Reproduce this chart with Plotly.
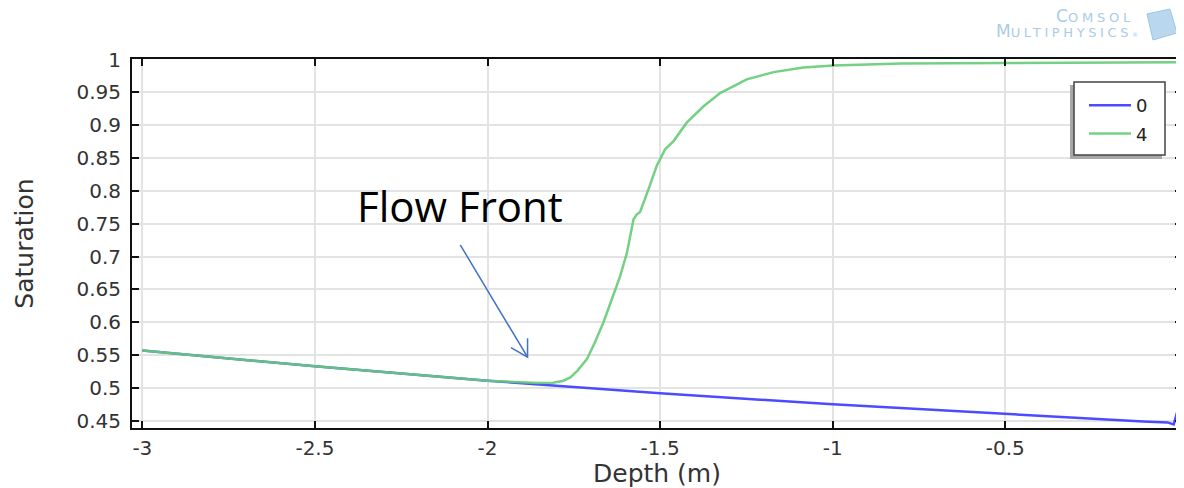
import plotly.graph_objects as go

# ---- data ----
depth_t0 = [-3.0, -2.5, -2.0, -1.5, -1.0, -0.5, -0.1, -0.03, -0.012, 0.0]
sat_t0 = [0.557, 0.533, 0.511, 0.492, 0.475, 0.460, 0.449, 0.4475, 0.4445, 0.467]

depth_t4 = [-3.0, -2.5, -2.0, -1.9, -1.85, -1.81, -1.78, -1.76, -1.74, -1.712, -1.69,
            -1.664, -1.64, -1.616, -1.596, -1.577, -1.568, -1.558, -1.534, -1.51,
            -1.486, -1.461, -1.423, -1.374, -1.326, -1.249, -1.171, -1.085, -0.998,
            -0.8, -0.5, 0.0]
sat_t4 = [0.557, 0.533, 0.511, 0.5085, 0.5075, 0.508, 0.511, 0.516, 0.526, 0.544, 0.568,
          0.600, 0.635, 0.670, 0.706, 0.757, 0.764, 0.768, 0.802, 0.838,
          0.863, 0.876, 0.904, 0.929, 0.949, 0.970, 0.981, 0.988, 0.991,
          0.994, 0.995, 0.996]

series_names = ["0", "4"]
x_ticks = [-3, -2.5, -2, -1.5, -1, -0.5, 0]
x_tick_labels = ["-3", "-2.5", "-2", "-1.5", "-1", "-0.5", "0"]
y_ticks = [0.45, 0.5, 0.55, 0.6, 0.65, 0.7, 0.75, 0.8, 0.85, 0.9, 0.95, 1.0]
y_tick_labels = ["0.45", "0.5", "0.55", "0.6", "0.65", "0.7", "0.75", "0.8", "0.85", "0.9", "0.95", "1"]

BLUE = "#4b4bff"
GREEN = "#66cc77"
TXT = "#333333"
FONT = "DejaVu Sans"

fig = go.Figure()
fig.add_trace(go.Scatter(x=depth_t0, y=sat_t0, mode="lines", name=series_names[0],
                         legendgroup="a", line=dict(color=BLUE, width=2.5)))
fig.add_trace(go.Scatter(x=depth_t4, y=sat_t4, mode="lines", name=series_names[1],
                         legendgroup="b", opacity=0.9, line=dict(color=GREEN, width=2.5)))

axis_common = dict(
    showgrid=True, gridcolor="#e3e3e3", gridwidth=1.5,
    showline=True, linecolor="#111111", linewidth=2, mirror="ticks",
    ticks="inside", ticklen=7, tickwidth=1.5, tickcolor="#111111",
    tickfont=dict(family=FONT, size=20, color=TXT), zeroline=False,
    automargin=False,
)

fig.update_xaxes(range=[-3.03, 0.012], tickvals=x_ticks, ticktext=x_tick_labels,
                 title=dict(text="Depth (m)", font=dict(family=FONT, size=25, color=TXT), standoff=2),
                 ticklabelstandoff=1, **axis_common)
fig.update_yaxes(range=[0.439, 1.001], tickvals=y_ticks, ticktext=y_tick_labels,
                 title=dict(text="Saturation", font=dict(family=FONT, size=25, color=TXT), standoff=36),
                 ticklabelstandoff=5, **axis_common)

# helpers: page pixel -> paper fraction (plot area spans x 132..1182, y 59..428 on the page)
def px_x(p):
    return (p - 132) / 1050.0

def px_y(p):
    return (428 - p) / 369.0

shapes = [
    dict(type="rect", xref="paper", yref="paper", x0=px_x(1070), x1=px_x(1162),
         y0=px_y(159), y1=px_y(85), fillcolor="#a8a8a8", line=dict(width=0), layer="above"),
    dict(type="rect", xref="paper", yref="paper", x0=px_x(1074), x1=px_x(1165),
         y0=px_y(155), y1=px_y(82), fillcolor="white", line=dict(color="#444444", width=1.5), layer="above"),
    # logo cube
    dict(type="path", xref="paper", yref="paper",
         path=f"M {px_x(1147)},{px_y(14)} L {px_x(1170)},{px_y(9)} L {px_x(1177)},{px_y(33)} "
              f"L {px_x(1153)},{px_y(40)} Z",
         fillcolor="#b9d8ef", line=dict(color="#9cc6e6", width=1), layer="above"),
    # arrow (open head)
    dict(type="path", xref="x", yref="y", xsizemode="pixel", ysizemode="pixel",
         xanchor=-1.884, yanchor=0.5468,
         path="M -67.3,112.3 L 0,0 M -16.6,9.6 L 0,0 L 0,19",
         line=dict(color="#4472c4", width=1.5), layer="above"),
]

annotations = [
    dict(text="Flow Front", x=-2.0805, y=0.7775, xref="x", yref="y", showarrow=False,
         xanchor="center", yanchor="middle",
         font=dict(family="Open Sans", size=42, color="black")),
    dict(text="C<span style='font-size:13px;letter-spacing:3.8px'>OMSOL</span>", x=px_x(1136), y=px_y(16),
         xref="paper", yref="paper", xanchor="right", yanchor="middle", showarrow=False,
         font=dict(family="DejaVu Sans", size=17, color="#a9cce8")),
    dict(text="M<span style='font-size:13px;letter-spacing:3.6px'>ULTIPHYSICS</span><span style='font-size:6px'>®</span>",
         x=px_x(1140), y=px_y(31),
         xref="paper", yref="paper", xanchor="right", yanchor="middle", showarrow=False,
         font=dict(family="DejaVu Sans", size=17, color="#a9cce8")),
]

# the page body has an 8px margin, so the figure is 8px smaller and margins offset by 8px
fig.update_layout(
    width=1176, height=480,
    margin=dict(l=124, r=2, t=51, b=60),
    paper_bgcolor="white", plot_bgcolor="white",
    shapes=shapes, annotations=annotations,
    showlegend=True,
    legend=dict(x=px_x(1084), y=px_y(87), xanchor="left", yanchor="top",
                bgcolor="rgba(0,0,0,0)", borderwidth=0, tracegroupgap=2,
                itemwidth=42,
                font=dict(family=FONT, size=18, color="#222222")),
)

fig.write_html("out.html")
